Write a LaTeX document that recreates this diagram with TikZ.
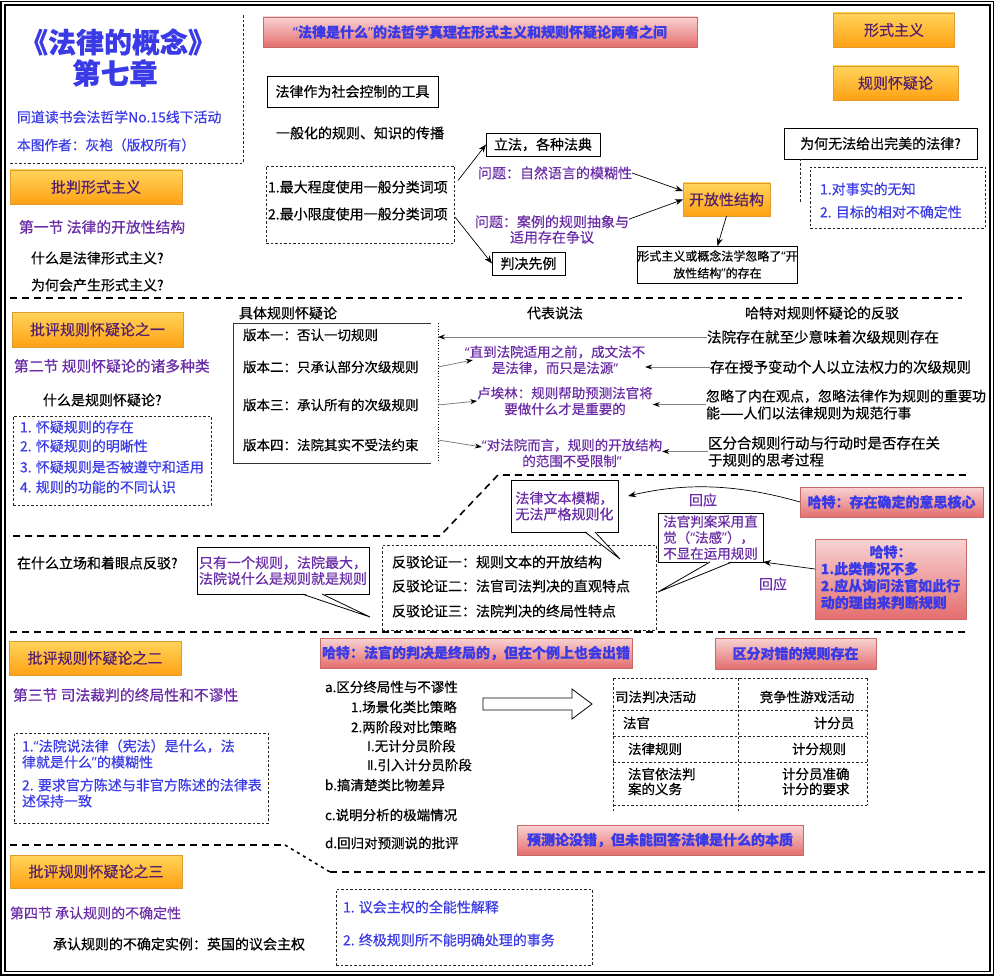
\documentclass[tikz,border=0pt]{standalone}
\usepackage{fontspec}
\setmainfont{Noto Sans CJK SC}[RawFeature={embolden=0.5}]
\newfontfamily\latf{Noto Sans}
\newfontfamily\dvs{DejaVu Sans}
\newcommand{\qo}{{\latf “}}
\newcommand{\qc}{{\latf ”}}
\usetikzlibrary{arrows.meta,calc}
\definecolor{tblue}{HTML}{3A3AE6}
\definecolor{tpurple}{HTML}{6A2BA6}
\definecolor{tdark}{HTML}{55206B}
\definecolor{obtop}{HTML}{FFD45A}
\definecolor{obbot}{HTML}{FFA114}
\definecolor{obdraw}{HTML}{E09A2E}
\definecolor{pktop}{HTML}{F8D2D2}
\definecolor{pkbot}{HTML}{E46E6E}
\definecolor{pkdraw}{HTML}{C76A6A}
\tikzset{
  every node/.style={inner sep=0pt,outer sep=0pt},
  txt/.style={text=black,font=\fontsize{14}{16}\selectfont},
  txtb/.style={text=black,font=\fontsize{13.5}{15}\selectfont},
  ptxt/.style={text=tpurple,font=\fontsize{14}{15.5}\selectfont},
  sectxt/.style={text=tpurple,font=\fontsize{14.8}{17}\selectfont,anchor=west},
  btxt/.style={text=tblue,font=\fontsize{14}{16}\selectfont},
  obox/.style={draw=obdraw,top color=obtop,bottom color=obbot,text=tdark,font=\fontsize{15}{17}\selectfont,line width=0.6pt},
  pkbox/.style={draw=pkdraw,top color=pktop,bottom color=pkbot,text=tblue,font=\fontsize{14}{16}\selectfont\bfseries,line width=0.6pt},
  sbox/.style={draw=black,fill=white,text=black,font=\fontsize{14}{16}\selectfont,line width=0.8pt},
  dbox/.style={draw=black!85,dash pattern=on 2.5pt off 2pt,line width=0.8pt},
  callout/.style={draw=black,fill=white,text=tpurple,align=left,font=\fontsize{14}{16}\selectfont,line width=0.8pt},
  sepline/.style={line width=1.6pt,dash pattern=on 7pt off 5pt},
  arr/.style={-{Stealth[length=8pt,width=6pt]},line width=0.7pt},
  garr/.style={-{Stealth[length=7pt,width=5pt,color=black]},draw=black!50,line width=0.8pt},
}
\begin{document}
\begin{tikzpicture}[x=1pt,y=-1pt]
\useasboundingbox (0,0) rectangle (995,976);
% frame
\draw[line width=1.2pt] (1,1.5) rectangle (993.5,975);
\draw[line width=1.2pt] (5,5) rectangle (990,971.5);

% ---------- title block
\node[text=tblue,font=\fontsize{28}{32}\selectfont\bfseries] (title) at (118,42) {《法律的概念》};
\node[text=tblue,font=\fontsize{28.5}{32}\selectfont\bfseries] (chap) at (115,73) {第七章};
\node[btxt,font=\fontsize{13.9}{16}\selectfont,anchor=west] (club) at (17,117) {同道读书会法哲学No.15线下活动};
\node[btxt,font=\fontsize{13.7}{16}\selectfont,anchor=west] (author) at (17,145) {本图作者：灰袍（版权所有）};
\draw[dbox] (10,163) -- (243,163) -- (243,15);

% ---------- top boxes
\node[pkbox,minimum width=434,minimum height=30] (banner) at (480,32) {\qo 法律是什么\qc 的法哲学真理在形式主义和规则怀疑论两者之间};
\node[obox,minimum width=121,minimum height=34] (xs) at (894,30) {形式主义};
\node[obox,minimum width=125,minimum height=34] (gz) at (895.5,83) {规则怀疑论};

% ---------- section 1 middle
\node[sbox,minimum width=171,minimum height=31] (tool) at (352.5,91.5) {法律作为社会控制的工具};
\node[txt,anchor=west] (gen) at (276,133) {一般化的规则、知识的传播};
\node[dbox,minimum width=188,minimum height=77] (cls) at (360,204.5) {};
\node[txt,anchor=west] (cls1) at (268,187) {1.最大程度使用一般分类词项};
\node[txt,anchor=west] (cls2) at (268,214) {2.最小限度使用一般分类词项};
\node[sbox,minimum width=114,minimum height=23] (lifa) at (543,144.5) {立法，各种法典};
\node[sbox,minimum width=73,minimum height=23] (panjue) at (528.5,263.5) {判决先例};
\node[ptxt,anchor=west] (wt1) at (478,173) {问题：自然语言的模糊性};
\node[ptxt,align=center] (wt2) at (552,229.5) {问题：案例的规则抽象与\\适用存在争议};
\node[obox,minimum width=87,minimum height=33] (kf) at (726.5,199.5) {开放性结构};
\node[sbox,minimum width=159,minimum height=37,align=center,font=\fontsize{12}{17}\selectfont] (hl) at (717.5,264.5) {形式主义或概念法学忽略了\qo 开\\放性结构\qc 的存在};
\draw[arr] ($(cls.east|-cls1.north)+(4,0)$) -- (lifa.west);
\draw[arr] ($(cls.east|-cls2)+(1,3)$) -- (panjue.west);
\draw[arr] (wt1.east) -- ($(kf.west)+(0,-8.5)$);
\draw[arr] ($(wt2.north east)+(0,4)$) -- (kf.west);
\draw[arr] (kf.south) -- (hl.north);

% ---------- section 1 right
\node[sbox,minimum width=193,minimum height=31] (why) at (880.5,143.5) {为何无法给出完美的法律?};
\draw[dbox] ($(why.south west)+(16,0)$) -- ++(0,44);
\node[dbox,minimum width=175,minimum height=61] (whyl) at (897.5,197.5) {};
\node[btxt,anchor=west] (w1) at (820,189) {1.对事实的无知};
\node[btxt,anchor=west] (w2) at (820,212) {2. 目标的相对不确定性};

% ---------- section 1 left
\node[obox,minimum width=172,minimum height=34] (pp1) at (96,187) {批判形式主义};
\node[sectxt] (s1) at (19,227) {第一节 法律的开放性结构};
\node[txt,anchor=west] (q1) at (31,258) {什么是法律形式主义?};
\node[txt,anchor=west] (q2) at (31,285) {为何会产生形式主义?};

\draw[sepline] (10,298) -- (962,298);

% ---------- section 2 left
\node[obox,minimum width=171,minimum height=35] (pp2) at (97.5,329.5) {批评规则怀疑论之一};
\node[sectxt] (s2) at (14,366) {第二节 规则怀疑论的诸多种类};
\node[txt,anchor=west] (q3) at (43,400) {什么是规则怀疑论?};
\node[dbox,minimum width=198,minimum height=89] (rs) at (112,460.5) {};
\node[btxt,anchor=west] (rs1) at (20,427) {1. 怀疑规则的存在};
\node[btxt,anchor=west] (rs2) at (20,446) {2. 怀疑规则的明晰性};
\node[btxt,anchor=west] (rs3) at (20,467) {3. 怀疑规则是否被遵守和适用};
\node[btxt,anchor=west] (rs4) at (20,487) {4. 规则的功能的不同认识};

% ---------- section 2 table
\node[txt] (h1) at (288,313) {具体规则怀疑论};
\node[txt] (h2) at (555,313) {代表说法};
\node[txt] (h3) at (822,313) {哈特对规则怀疑论的反驳};
\node[minimum width=205,minimum height=140] (vbox) at (335.5,393) {};
\draw[black!80,line width=0.8pt] ($(vbox.north east)+(-7,0)$) -| (vbox.south west) -- ($(vbox.south east)+(-7,0)$);
\draw[black,dotted,line width=0.8pt] (vbox.north east) -- (vbox.south east);
\node[txtb,anchor=west] (v1) at (243,335) {版本一：否认一切规则};
\node[txtb,anchor=west] (v2) at (243,367) {版本二：只承认部分次级规则};
\node[txtb,anchor=west] (v3) at (243,405) {版本三：承认所有的次级规则};
\node[txtb,anchor=west] (v4) at (243,445) {版本四：法院其实不受法约束};
\node[ptxt,font=\fontsize{13.5}{16}\selectfont,align=center] (m1) at (555,360) {\qo 直到法院适用之前，成文法不\\是法律，而只是法源\qc};
\node[ptxt,font=\fontsize{13.5}{16}\selectfont,align=center] (m2) at (565,401) {卢埃林：规则帮助预测法官将\\要做什么才是重要的};
\node[ptxt,font=\fontsize{13.5}{16}\selectfont,align=center] (m3) at (572,453) {\qo 对法院而言，规则的开放结构\\的范围不受限制\qc};
\node[txt,font=\fontsize{14.5}{17}\selectfont,anchor=west] (r1) at (707,337) {法院存在就至少意味着次级规则存在};
\node[txt,font=\fontsize{14.5}{17}\selectfont,anchor=west] (r2) at (710,367) {存在授予变动个人以立法权力的次级规则};
\node[txt,font=\fontsize{14}{17}\selectfont,anchor=west,align=left] (r3) at (706,404.5) {忽略了内在观点，忽略法律作为规则的重要功\\能——人们以法律规则为规范行事};
\node[txt,font=\fontsize{14.5}{17}\selectfont,anchor=west,align=left] (r4) at (708,451.5) {区分合规则行动与行动时是否存在关\\于规则的思考过程};
\draw[garr] (r1.west) -- (vbox.east|-r1.west);
\draw[garr] (vbox.east|-v2) -- ($(m1.west)+(8,0)$);
\draw[garr] (r2.west) -- (r2.west-|m1.east);
\draw[garr] (vbox.east|-v3) -- (m2.west);
\draw[garr] (r3.west) -- (r3.west-|m2.east);
\draw[garr] ($(vbox.east|-v4)+(0,-5)$) -- ($(m3.west)+(0,-6)$);
\draw[garr] (r4.west) -- (r4.west-|m3.east);

\draw[sepline] (13,536) -- (440,536) -- (498,475) -- (970,475);

% ---------- section 2b
\node[txt,anchor=west] (q4) at (17,563) {在什么立场和着眼点反驳?};
\node[callout,minimum width=172,minimum height=47] (cb1) at (283,570.5) {只有一个规则，法院最大，\\法院说什么是规则就是规则};
\coordinate (tip1) at (370,617);
\fill[white] ($(cb1.south)+(19,-1)$) -- (tip1) -- ($(cb1.south)+(39,-1)$) -- cycle;
\draw[line width=0.8pt] ($(cb1.south)+(19,0)$) -- (tip1) -- ($(cb1.south)+(39,0)$);

\node[dbox,minimum width=274,minimum height=85] (arg) at (519,587.5) {};
\node[txt,anchor=west] (a1) at (392,562) {反驳论证一：规则文本的开放结构};
\node[txt,anchor=west] (a2) at (392,586) {反驳论证二：法官司法判决的直观特点};
\node[txt,anchor=west] (a3) at (392,611) {反驳论证三：法院判决的终局性特点};

\node[callout,minimum width=107,minimum height=52] (cb2) at (564.5,506) {法律文本模糊，\\无法严格规则化};
\coordinate (tip2) at (620,559);
\fill[white] ($(cb2.south)+(20.5,-1)$) -- (tip2) -- ($(cb2.south)+(30.5,-1)$) -- cycle;
\draw[line width=0.8pt] ($(cb2.south)+(20.5,0)$) -- (tip2) -- ($(cb2.south)+(30.5,0)$);

\node[pkbox,minimum width=183,minimum height=30] (ph1) at (891.5,502) {哈特：存在确定的意思核心};
\draw[arr] (ph1.west) .. controls (730,482) and (680,484) .. ($(cb2.east)+(10,-10)$);
\node[ptxt] (hy1) at (703,500) {回应};

\node[callout,minimum width=105,minimum height=49,font=\fontsize{13.5}{16}\selectfont] (cb3) at (710.5,537.5) {法官判案采用直\\觉（\qo 法感\qc ），\\不显在运用规则};
\coordinate (tip3) at (658,592);
\fill[white] ($(cb3.south)+(-0.5,-1)$) -- (tip3) -- ($(cb3.south)+(21.5,-1)$) -- cycle;
\draw[line width=0.8pt] ($(cb3.south)+(-0.5,0)$) -- (tip3) -- ($(cb3.south)+(21.5,0)$);

\node[pkbox,minimum width=151,minimum height=80] (ph2) at (890.5,579) {\begin{tabular}{@{}l@{}}\multicolumn{1}{@{}c@{}}{哈特：}\\1.此类情况不多\\2.应从询问法官如此行\\动的理由来判断规则\end{tabular}};
\draw[arr] ($(ph2.west)+(0,-10)$) -- (cb3.south east);
\node[ptxt] (hy2) at (773,584) {回应};

\draw[sepline] (10,632) -- (965,632);

% ---------- section 3
\node[obox,minimum width=172,minimum height=34] (pp3) at (95,658) {批评规则怀疑论之二};
\node[sectxt] (s3) at (13,695) {第三节 司法裁判的终局性和不谬性};
\node[dbox,minimum width=254,minimum height=90] (fin) at (141,778) {};
\node[btxt,anchor=west,align=left] (f1) at (22,754) {1.\qo 法院说法律（宪法）是什么，法\\律就是什么\qc 的模糊性};
\node[btxt,anchor=west,align=left] (f2) at (22,793) {2. 要求官方陈述与非官方陈述的法律表\\述保持一致};

\node[pkbox,minimum width=312,minimum height=30] (ph3) at (476,653) {哈特：法官的判决是终局的，但在个例上也会出错};
\node[pkbox,minimum width=161,minimum height=31] (ph4) at (795.5,653.5) {区分对错的规则存在};

\node[txtb,anchor=west] (la) at (325,687) {a.区分终局性与不谬性};
\node[txtb,anchor=west] (l1) at (351,707) {1.场景化类比策略};
\node[txtb,anchor=west] (l2) at (351,727) {2.两阶段对比策略};
\node[txtb,anchor=west] (l3) at (367,746) {{\dvs Ⅰ}.无计分员阶段};
\node[txtb,anchor=west] (l4) at (367,765) {{\dvs Ⅱ}.引入计分员阶段};
\node[txtb,anchor=west] (lb) at (325,785) {b.搞清楚类比物差异};
\node[txtb,anchor=west] (lc) at (325,815) {c.说明分析的极端情况};
\node[txtb,anchor=west] (ld) at (325,843) {d.回归对预测说的批评};

\draw[fill=white,line width=0.8pt] (483,698) -- (572,698) -- (572,689) -- (592,704) -- (572,719) -- (572,710) -- (483,710) -- cycle;

% comparison table
\draw[dbox] (613,678) -- (867,678);
\draw[dbox] (613,710) -- (867,710);
\draw[dbox] (613,736) -- (867,736);
\draw[dbox] (613,762) -- (867,762);
\draw[dbox] (613,805) -- (867,805);
\draw[dbox] (613,678) -- (613,812);
\draw[dbox] (738,678) -- (738,812);
\draw[dbox] (867,678) -- (867,805);
\node[txtb,anchor=west] (c11) at (615,697) {司法判决活动};
\node[txtb] (c12) at (807,697) {竞争性游戏活动};
\node[txtb,anchor=west] (c21) at (623,723) {法官};
\node[txtb] (c22) at (834,723) {计分员};
\node[txtb,anchor=west] (c31) at (628,749) {法律规则};
\node[txtb] (c32) at (819,749) {计分规则};
\node[txtb,anchor=west,align=left] (c41) at (628,781.5) {法官依法判\\案的义务};
\node[txtb,anchor=west,align=left] (c42) at (782,781.5) {计分员准确\\计分的要求};

\node[pkbox,minimum width=286,minimum height=30] (ph5) at (660,840) {预测论没错，但未能回答法律是什么的本质};

\draw[sepline] (10,845) -- (285,845);
\draw[line width=1.6pt,dash pattern=on 3pt off 4pt] (285,845) -- (330,872);
\draw[sepline] (330,872) -- (985,872);

% ---------- section 4
\node[obox,minimum width=172,minimum height=33] (pp4) at (96,871.5) {批评规则怀疑论之三};
\node[sectxt,font=\fontsize{14}{16}\selectfont] (s4) at (10,913) {第四节 承认规则的不确定性};
\node[txt,anchor=west] (q5) at (53,944) {承认规则的不确定实例：英国的议会主权};
\node[dbox,minimum width=256,minimum height=76] (par) at (464,927) {};
\node[btxt,anchor=west] (p1) at (343,907) {1. 议会主权的全能性解释};
\node[btxt,anchor=west] (p2) at (343,940) {2. 终极规则所不能明确处理的事务};
\end{tikzpicture}
\end{document}
